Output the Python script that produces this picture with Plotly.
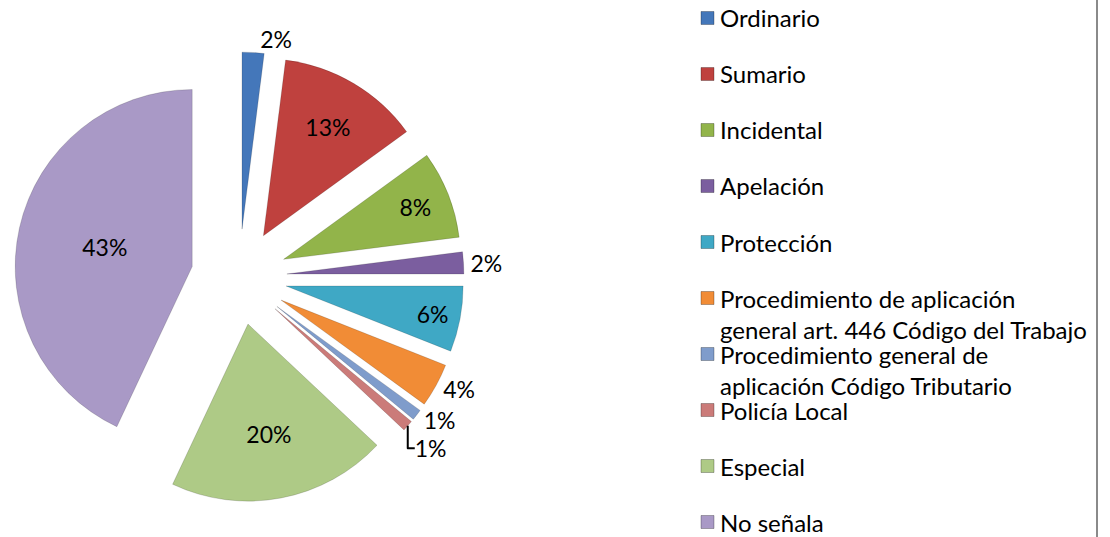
import plotly.graph_objects as go

categories = [
    "Ordinario", "Sumario", "Incidental", "Apelación", "Protección",
    "Procedimiento de aplicación general art. 446 Código del Trabajo",
    "Procedimiento general de aplicación Código Tributario",
    "Policía Local", "Especial", "No señala",
]
legend_labels = [
    "Ordinario", "Sumario", "Incidental", "Apelación", "Protección",
    "Procedimiento de aplicación<br>general art. 446 Código del Trabajo",
    "Procedimiento general de<br>aplicación Código Tributario",
    "Policía Local", "Especial", "No señala",
]
values = [2, 13, 8, 2, 6, 4, 1, 1, 20, 43]
colors = ["#4477BA", "#BF413E", "#92B44A", "#7B5E9F", "#3FA8C5",
          "#F18C36", "#7F9CCB", "#CB7B79", "#AECA86", "#A999C6"]
text_positions = ["outside", "inside", "inside", "outside", "inside",
                  "outside", "outside", "outside", "inside", "inside"]

FONT = "Lato, Carlito, Calibri, sans-serif"
FS = 23
LFS = 24
W, H = 1110, 537

# pie geometry (pixels)
cx, cy, r, pull = 239, 277, 177, 0.271
half = r * (1 + pull)

fig = go.Figure()
fig.add_trace(go.Pie(
    labels=categories,
    values=values,
    sort=False,
    direction="clockwise",
    rotation=0,
    pull=[pull] * len(values),
    marker=dict(colors=colors, line=dict(color="rgba(0,0,0,0.25)", width=0.6)),
    texttemplate="%{percent:.0%}",
    textposition=text_positions,
    insidetextorientation="horizontal",
    insidetextfont=dict(family=FONT, size=FS, color="black"),
    outsidetextfont=dict(family=FONT, size=FS, color="black"),
    domain=dict(x=[(cx - half) / W, (cx + half) / W],
                y=[1 - (cy + half) / H, 1 - (cy - half) / H]),
    showlegend=False,
    hoverinfo="label+percent",
))

# manual legend, Excel-like
shapes = []
annotations = []
step = 56
line_gap = 31
for i, (lab, col) in enumerate(zip(legend_labels, colors)):
    yc = 18 + step * i
    shapes.append(dict(type="rect", xref="paper", yref="paper",
                       x0=701 / W, x1=714 / W,
                       y0=1 - (yc + 6.5) / H, y1=1 - (yc - 6.5) / H,
                       fillcolor=col, line=dict(color="rgba(0,0,0,0.35)", width=0.8)))
    for j, part in enumerate(lab.split("<br>")):
        annotations.append(dict(xref="paper", yref="paper",
                                x=719 / W, y=1 - (yc + j * line_gap) / H,
                                xanchor="left", yanchor="middle",
                                text=part, showarrow=False, borderpad=0,
                                font=dict(family=FONT, size=LFS, color="black")))

# right border of chart area
shapes.append(dict(type="line", xref="paper", yref="paper",
                   x0=1097 / W, x1=1097 / W, y0=0, y1=1,
                   line=dict(color="#8A8A8A", width=2)))

fig.update_layout(
    width=W, height=H,
    margin=dict(l=0, r=0, t=0, b=0, autoexpand=False),
    paper_bgcolor="white",
    plot_bgcolor="white",
    shapes=shapes,
    annotations=annotations,
    font=dict(family=FONT, size=FS, color="black"),
)

fig.write_html("out.html",
               config={"displayModeBar": False},
               post_script="document.body.style.margin='0px';document.body.style.overflow='hidden';")
